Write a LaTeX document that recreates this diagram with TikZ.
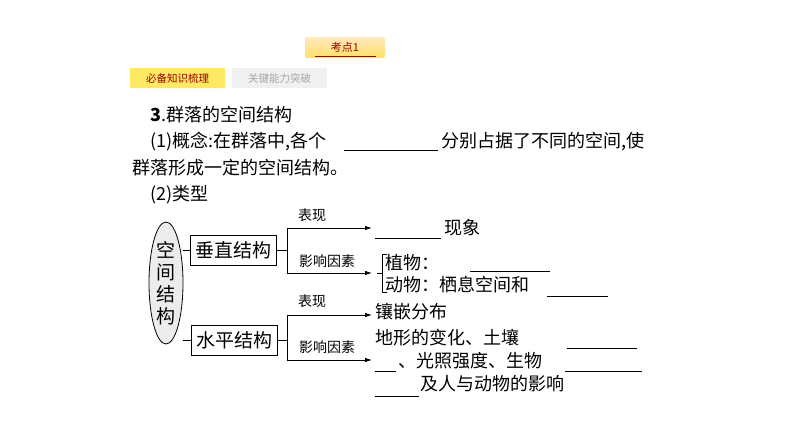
\documentclass[tikz,border=0pt]{standalone}
\usepackage{fontspec}
\setmainfont{Noto Sans CJK SC}
\usetikzlibrary{arrows.meta,shapes.geometric}
\begin{document}
\begin{tikzpicture}[x=1pt,y=-1pt,
  txt/.style={anchor=west,inner sep=0pt,font=\fontsize{18}{18}\selectfont},
  lbl/.style={inner sep=0pt,font=\fontsize{14}{14}\selectfont},
  bx/.style={draw,line width=0.8pt,minimum width=86pt,minimum height=30pt,inner sep=0pt,font=\fontsize{19}{19}\selectfont},
  ln/.style={line width=0.8pt},
  arr/.style={ln,-{Latex[length=7pt,width=4.5pt]}},
  blank/.style={line width=0.7pt}]
\useasboundingbox (0,0) rectangle (794,447);
\fill[white] (0,0) rectangle (794,447);
% tabs
\shade[top color=yellow!30!orange!25,bottom color=yellow!60!orange!60,rounded corners=2pt] (305,37) rectangle (385,58);
\node[inner sep=0pt,text=red!60!black,font=\fontsize{11}{11}\selectfont] (kd) at (345,47) {考点1};
\draw[red!60!black,line width=0.6pt] (315,56) -- (376,56);
\fill[yellow!80!orange!60,rounded corners=1pt] (130,68) rectangle (225,88);
\node[inner sep=0pt,text=red!60!black,font=\fontsize{10.5}{10.5}\selectfont] (t1) at (177.5,78) {必备知识梳理};
\fill[gray!12,rounded corners=1pt] (232,68) rectangle (327,88);
\node[inner sep=0pt,text=gray!70,font=\fontsize{10.5}{10.5}\selectfont] (t2) at (279.5,78) {关键能力突破};
% text
\node[txt] (l1) at (150,115) {\textbf{3}.群落的空间结构};
\node[txt] (l2) at (150,142) {(1)概念:在群落中,各个};
\draw[blank] (344,150) -- (438,150);
\node[txt] (l2b) at (441,142) {分别占据了不同的空间,使};
\node[txt] (l3) at (132,168) {群落形成一定的空间结构。};
\node[txt] (l4) at (150,195) {(2)类型};
% diagram
\node[draw,ellipse,fill=gray!15,line width=0.8pt,minimum width=34pt,minimum height=122pt,inner sep=0pt] (el) at (166,283) {};
\node[inner sep=0pt,align=center,font=\fontsize{19}{22}\selectfont] (elt) at (166,283) {空\\间\\结\\构};
\node[bx] (v) at (233,250) {垂直结构};
\node[bx] (h) at (234,340) {水平结构};
\draw[ln] (183,250) -- (v.west);
\draw[ln] (183,340) -- (h.west);
\coordinate (vj) at (287,250);
\coordinate (hj) at (287,340);
\draw[ln] (v.east) -- (vj);
\draw[ln] (h.east) -- (hj);
\coordinate (a1) at (372,228); \coordinate (a2) at (372,273);
\coordinate (a3) at (372,315); \coordinate (a4) at (372,360);
\draw[arr] (vj) |- (a1);
\draw[arr] (vj) |- (a2);
\draw[arr] (hj) |- (a3);
\draw[arr] (hj) |- (a4);
\node[lbl] (b1) at (312,215) {表现};
\node[lbl] (b2) at (327,261) {影响因素};
\node[lbl] (b3) at (312,301) {表现};
\node[lbl] (b4) at (327,347) {影响因素};
% right
\draw[blank] (375,238) -- (441,238);
\node[txt] (r1) at (444,228) {现象};
\draw[ln] (387,254) -- (382,254) -- (382,292) -- (387,292);
\draw[ln] (377,273) -- (382,273);
\node[txt] (r2) at (385,263) {植物：};
\draw[blank] (470,271) -- (550,271);
\node[txt] (r3) at (385,285) {动物：栖息空间和};
\draw[blank] (547,296) -- (608,296);
\node[txt] (r4) at (375,312) {镶嵌分布};
\node[txt] (r5) at (375,338) {地形的变化、土壤};
\draw[blank] (567,348) -- (637,348);
\node[txt] (r6) at (398,361) {、光照强度、生物};
\draw[blank] (375,371) -- (396,371);
\draw[blank] (565,371) -- (642,371);
\node[txt] (r7) at (420,384) {及人与动物的影响};
\draw[blank] (375,396) -- (419,396);
\end{tikzpicture}
\end{document}
